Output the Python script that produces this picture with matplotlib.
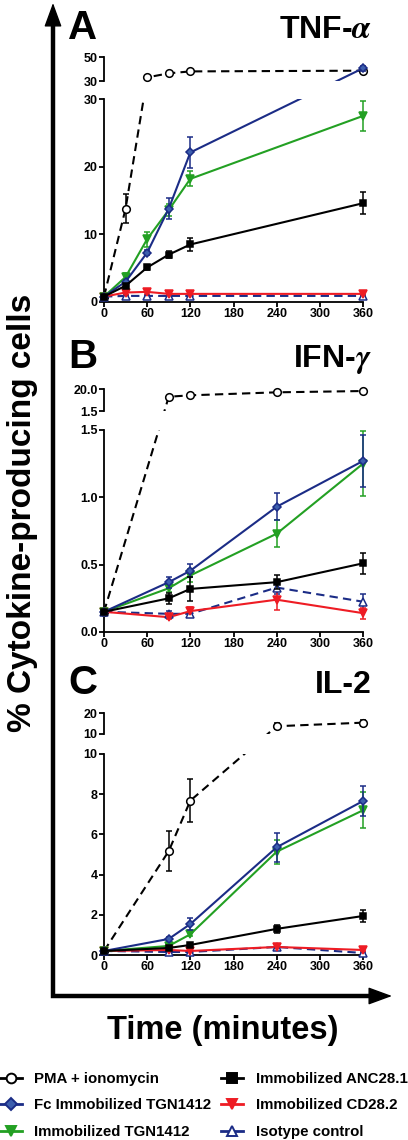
import numpy as np
import matplotlib
matplotlib.use("Agg")
import matplotlib.pyplot as plt
from matplotlib.lines import Line2D
from matplotlib.patches import FancyArrowPatch

plt.rcParams['font.family'] = ['Liberation Sans', 'DejaVu Sans']
plt.rcParams['font.weight'] = 'bold'
plt.rcParams['mathtext.fontset'] = 'stix'

W, H = 408, 1140

# ---- data ----
times_A = [0, 30, 60, 90, 120, 360]
pma_A = [0.8, 13.8, 33.0, 36.4, 38.0, 38.6]
pma_A_err = [0.0, 2.1, 0.8, 1.0, 0.5, 0.8]
fc_A = [0.8, 3.0, 7.3, 13.8, 22.1, 40.6]
fc_A_err = [0.1, 0.3, 0.4, 1.5, 2.3, 2.0]
imm_A = [0.8, 3.7, 9.3, 13.6, 18.2, 27.5]
imm_A_err = [0.1, 0.6, 1.1, 0.9, 1.1, 2.2]
anc_A = [0.8, 2.4, 5.1, 7.0, 8.5, 14.6]
anc_A_err = [0.1, 0.3, 0.3, 0.5, 0.9, 1.6]
cd_A = [0.8, 1.4, 1.5, 1.2, 1.2, 1.2]
cd_A_err = [0.1, 0.3, 0.3, 0.2, 0.2, 0.3]
iso_A = [0.8, 0.9, 0.9, 0.9, 0.9, 0.9]
iso_A_err = [0.1, 0.1, 0.1, 0.1, 0.1, 0.1]

times_B = [0, 90, 120, 240, 360]
pma_B = [0.15, 13.5, 14.7, 17.2, 18.3]
pma_B_err = [0.0, 0.0, 0.0, 0.0, 0.0]
fc_B = [0.15, 0.37, 0.455, 0.93, 1.27]
fc_B_err = [0.01, 0.04, 0.05, 0.10, 0.19]
imm_B = [0.15, 0.325, 0.42, 0.73, 1.25]
imm_B_err = [0.01, 0.03, 0.05, 0.10, 0.24]
anc_B = [0.15, 0.25, 0.32, 0.37, 0.51]
anc_B_err = [0.01, 0.04, 0.09, 0.05, 0.08]
cd_B = [0.15, 0.11, 0.155, 0.24, 0.14]
cd_B_err = [0.01, 0.01, 0.03, 0.08, 0.04]
iso_B = [0.15, 0.135, 0.135, 0.33, 0.225]
iso_B_err = [0.01, 0.02, 0.02, 0.05, 0.06]

times_C = [0, 90, 120, 240, 360]
pma_C = [0.2, 5.17, 7.68, 13.7, 15.4]
pma_C_err = [0.0, 1.0, 1.07, 1.5, 1.5]
fc_C = [0.2, 0.8, 1.54, 5.36, 7.66]
fc_C_err = [0.02, 0.08, 0.3, 0.72, 0.75]
imm_C = [0.2, 0.45, 1.03, 5.14, 7.2]
imm_C_err = [0.02, 0.05, 0.1, 0.6, 0.9]
anc_C = [0.2, 0.35, 0.5, 1.3, 1.94]
anc_C_err = [0.02, 0.05, 0.08, 0.2, 0.3]
cd_C = [0.2, 0.25, 0.2, 0.4, 0.25]
cd_C_err = [0.02, 0.05, 0.05, 0.1, 0.05]
iso_C = [0.2, 0.15, 0.15, 0.4, 0.1]
iso_C_err = [0.02, 0.05, 0.05, 0.1, 0.05]

labels = ["PMA + ionomycin", "Fc Immobilized TGN1412", "Immobilized TGN1412",
          "Immobilized ANC28.1", "Immobilized CD28.2", "Isotype control"]

x_ticks = [0, 60, 120, 180, 240, 300, 360]

NAVY = '#1b2c86'
styles = [
    dict(color='black', ls='--', marker='o', mfc='white', mec='black', ms=5.5),
    dict(color=NAVY, ls='-', marker='D', mfc='#3d5fae', mec=NAVY, ms=4.2),
    dict(color='#23a023', ls='-', marker='v', mfc='#23a023', mec='#23a023', ms=5.5),
    dict(color='black', ls='-', marker='s', mfc='black', mec='black', ms=5),
    dict(color='#ee1c24', ls='-', marker='v', mfc='#ee1c24', mec='#ee1c24', ms=5.5),
    dict(color=NAVY, ls='--', marker='^', mfc='white', mec=NAVY, ms=5.5),
]

fig = plt.figure(figsize=(W / 100, H / 100), dpi=100)


def rect(x0, y0, x1, y1):
    # image pixel box (top-left origin) -> figure fraction rect
    return [x0 / W, 1 - y1 / H, (x1 - x0) / W, (y1 - y0) / H]


def make_panel(lo_box, hi_box, lo_lim, hi_lim, lo_ticks, lo_fmt, hi_fmt):
    lo = fig.add_axes(rect(*lo_box))
    hi = fig.add_axes(rect(*hi_box))
    for ax in (lo, hi):
        ax.set_xlim(0, 360)
        ax.spines['top'].set_visible(False)
        ax.spines['right'].set_visible(False)
        ax.spines['left'].set_linewidth(1.3)
        ax.spines['bottom'].set_linewidth(1.3)
        ax.tick_params(direction='out', length=3.5, width=1.3, labelsize=9, pad=1)
    lo.set_ylim(*lo_lim)
    hi.set_ylim(*hi_lim)
    lo.set_xticks(x_ticks)
    lo.set_yticks(lo_ticks)
    lo.set_yticklabels([lo_fmt.format(v) for v in lo_ticks])
    hi.set_yticks(hi_lim)
    hi.set_yticklabels([hi_fmt.format(v) for v in hi_lim])
    hi.spines['bottom'].set_visible(False)
    hi.set_xticks([])
    return lo, hi


def draw_series(lo, hi, split, t, v, e, st, z):
    src = [hi if val > split else lo for val in v]
    disp = np.array([a.transData.transform((tt, val)) for a, tt, val in zip(src, t, v)])
    for ax in (lo, hi):
        xy = ax.transData.inverted().transform(disp)
        ax.plot(xy[:, 0], xy[:, 1], color=st['color'], ls=st['ls'], lw=1.5,
                dashes=(4, 2.5) if st['ls'] == '--' else (None, None), zorder=z)
    for a, tt, val, ee in zip(src, t, v, e):
        if ee > 0:
            a.errorbar([tt], [val], yerr=[ee], fmt='none', ecolor=st['color'],
                       elinewidth=1.1, capsize=2.5, capthick=1.1, clip_on=False, zorder=z)
        a.plot([tt], [val], ls='none', marker=st['marker'], mfc=st['mfc'],
               mec=st['mec'], ms=st['ms'], mew=1.1, clip_on=False, zorder=z + 0.5)


panels = [
    dict(lo=(104, 99, 363, 302), hi=(104, 57, 363, 81), lo_lim=(0, 30), hi_lim=(30, 50),
         lo_ticks=[0, 10, 20, 30], lo_fmt='{:g}', hi_fmt='{:g}', t=times_A,
         data=[(pma_A, pma_A_err), (fc_A, fc_A_err), (imm_A, imm_A_err),
               (anc_A, anc_A_err), (cd_A, cd_A_err), (iso_A, iso_A_err)],
         letter='A', title=r'TNF-$\alpha$', ly=28),
    dict(lo=(104, 430, 363, 632), hi=(104, 389, 363, 411), lo_lim=(0, 1.5), hi_lim=(1.5, 20),
         lo_ticks=[0, 0.5, 1.0, 1.5], lo_fmt='{:.1f}', hi_fmt='{:.1f}', t=times_B,
         data=[(pma_B, pma_B_err), (fc_B, fc_B_err), (imm_B, imm_B_err),
               (anc_B, anc_B_err), (cd_B, cd_B_err), (iso_B, iso_B_err)],
         letter='B', title=r'IFN-$\gamma$', ly=357),
    dict(lo=(104, 754, 363, 955), hi=(104, 713, 363, 734), lo_lim=(0, 10), hi_lim=(10, 20),
         lo_ticks=[0, 2, 4, 6, 8, 10], lo_fmt='{:g}', hi_fmt='{:g}', t=times_C,
         data=[(pma_C, pma_C_err), (fc_C, fc_C_err), (imm_C, imm_C_err),
               (anc_C, anc_C_err), (cd_C, cd_C_err), (iso_C, iso_C_err)],
         letter='C', title='IL-2', ly=683),
]

order_z = [3, 6, 5, 7, 4, 3.5]
for p in panels:
    lo, hi = make_panel(p['lo'], p['hi'], p['lo_lim'], p['hi_lim'], p['lo_ticks'],
                        p['lo_fmt'], p['hi_fmt'])
    split = p['lo_lim'][1]
    for (v, e), st, z in zip(p['data'], styles, order_z):
        draw_series(lo, hi, split, p['t'], v, e, st, z)
    fig.text(68 / W, 1 - p['ly'] / H, p['letter'], fontsize=29, fontweight='bold',
             va='center', ha='left')
    fig.text(372 / W, 1 - (p['ly'] + 2) / H, p['title'], fontsize=23, fontweight='bold',
             va='center', ha='right')

# big axis arrows
cx, cy = 53 / W, 1 - 996 / H
fig.add_artist(Line2D([cx, cx, 375 / W], [1 - 20 / H, cy, cy], color='black', lw=3.2,
                      solid_joinstyle='miter', solid_capstyle='butt',
                      transform=fig.transFigure))
for a, b in [((cx, 1 - 24 / H), (cx, 1 - 3 / H)), ((371 / W, cy), (392 / W, cy))]:
    fig.add_artist(FancyArrowPatch(a, b, transform=fig.transFigure,
                                   arrowstyle='-|>,head_length=0.6,head_width=0.22',
                                   mutation_scale=25, color='black', lw=1,
                                   shrinkA=0, shrinkB=0))

fig.text(23 / W, 1 - 513 / H, '% Cytokine-producing cells', rotation=90, fontsize=24,
         fontweight='bold', ha='center', va='center')
fig.text(223 / W, 1 - 1030 / H, 'Time (minutes)', fontsize=23.5, fontweight='bold',
         ha='center', va='center')

# legend
handles = [Line2D([0], [0], color=st['color'], ls='-', lw=2, marker=st['marker'],
                  mfc=st['mfc'], mec=st['mec'], ms=st['ms'] + 1.5, mew=1.4)
           for st in styles]
fig.legend(handles, labels, loc='upper left', bbox_to_anchor=(0.0, 1 - 1072 / H),
           ncol=2, frameon=False, handlelength=1.45, handletextpad=0.85,
           columnspacing=0.65, labelspacing=0.83, borderaxespad=0, borderpad=0,
           prop=dict(weight='bold', size=10.8))

fig.savefig('out.png', dpi=100)
